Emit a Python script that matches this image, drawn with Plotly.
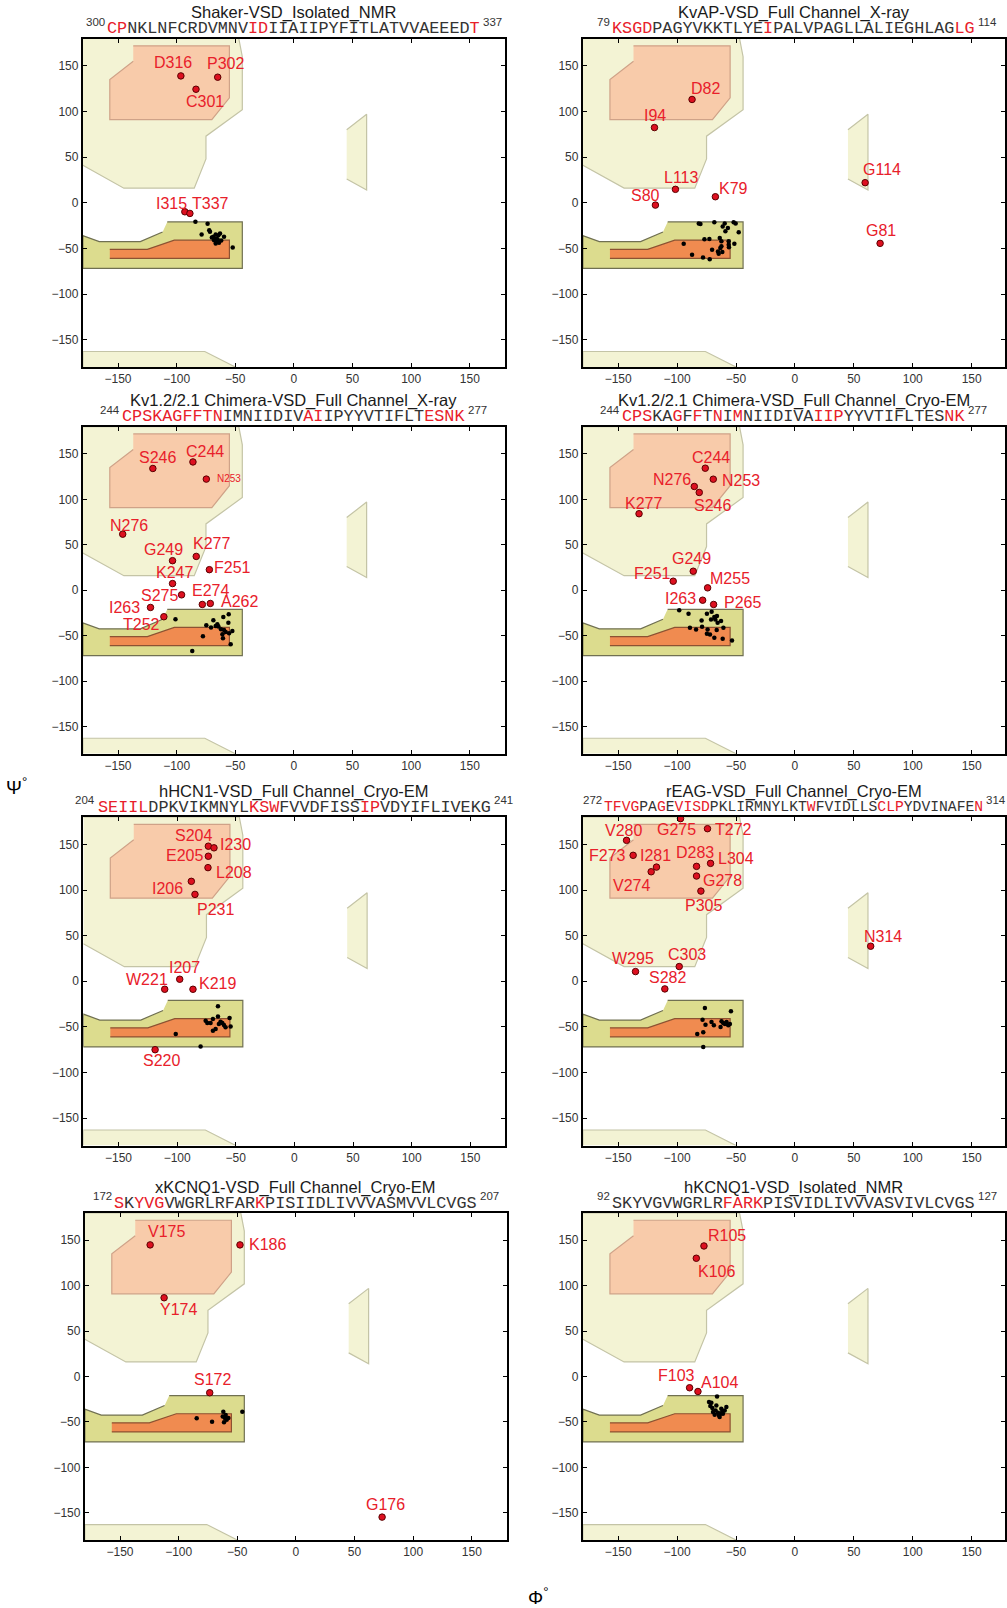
import plotly.graph_objects as go

W, H = 1007, 1608

# ---------------- data ----------------
TITLES = [
    "Shaker-VSD_Isolated_NMR",
    "KvAP-VSD_Full Channel_X-ray",
    "Kv1.2/2.1 Chimera-VSD_Full Channel_X-ray",
    "Kv1.2/2.1 Chimera-VSD_Full Channel_Cryo-EM",
    "hHCN1-VSD_Full Channel_Cryo-EM",
    "rEAG-VSD_Full Channel_Cryo-EM",
    "xKCNQ1-VSD_Full Channel_Cryo-EM",
    "hKCNQ1-VSD_Isolated_NMR",
]
SEQS = [
    "CPNKLNFCRDVMNVIDIIAIIPYFITLATVVAEEEDT",
    "KSGDPAGYVKKTLYEIPALVPAGLLALIEGHLAGLG",
    "CPSKAGFFTNIMNIIDIVAIIPYYVTIFLTESNK",
    "CPSKAGFFTNIMNIIDIVAIIPYYVTIFLTESNK",
    "SEIILDPKVIKMNYLKSWFVVDFISSIPVDYIFLIVEKG",
    "TFVGPAGEVISDPKLIRMNYLKTWFVIDLLSCLPYDVINAFEN",
    "SKYVGVWGRLRFARKPISIIDLIVVVASMVVLCVGS",
    "SKYVGVWGRLRFARKPISVIDLIVVVASVIVLCVGS",
]
SEQ_START = ["300", "79", "244", "244", "204", "272", "172", "92"]
SEQ_END = ["337", "114", "277", "277", "241", "314", "207", "127"]
SEQ_RED = [
    [0, 1, 14, 15, 36],
    [0, 1, 2, 3, 15, 34, 35],
    [0, 1, 2, 3, 4, 5, 6, 7, 8, 9, 18, 19, 30, 31, 32, 33],
    [0, 1, 2, 5, 7, 9, 11, 19, 20, 21, 32, 33],
    [0, 1, 2, 3, 4, 15, 16, 17, 26, 27],
    [0, 1, 2, 3, 6, 8, 9, 10, 11, 23, 31, 32, 33, 42],
    [0, 2, 3, 4, 14],
    [11, 12, 13, 14],
]

RED_LABELS = [
    ["D316", "P302", "C301", "I315", "T337"],
    ["D82", "I94", "L113", "S80", "K79", "G114", "G81"],
    ["S246", "C244", "N253", "N276", "G249", "K277", "F251", "K247", "S275", "E274", "A262", "I263", "T252"],
    ["C244", "N253", "N276", "S246", "K277", "G249", "F251", "M255", "I263", "P265"],
    ["S204", "I230", "E205", "L208", "I206", "P231", "I207", "W221", "K219", "S220"],
    ["G275", "T272", "V280", "F273", "I281", "V274", "D283", "L304", "G278", "P305", "N314", "W295", "C303", "S282"],
    ["V175", "K186", "Y174", "S172", "G176"],
    ["R105", "K106", "F103", "A104"],
]
RED_PHI = [
    [-96.4, -65.0, -83.5, -93.0, -88.7],
    [-87.3, -119.2, -101.4, -118.4, -67.5, 59.6, 72.3],
    [-120.3, -86.1, -74.7, -146.0, -103.5, -83.3, -72.1, -103.5, -95.8, -78.1, -71.3, -122.3, -110.9],
    [-76.1, -69.3, -85.4, -81.2, -132.3, -86.3, -103.3, -74.1, -78.3, -69.0],
    [-73.4, -68.6, -73.4, -73.7, -87.9, -84.8, -97.8, -110.6, -86.5, -118.8],
    [-97.1, -74.2, -142.9, -137.3, -117.5, -122.0, -83.5, -71.6, -83.5, -79.8, 64.3, -135.3, -98.2, -110.4],
    [-124.3, -47.7, -112.4, -73.5, 73.5],
    [-77.2, -83.7, -89.4, -82.3],
]
RED_PSI = [
    [139.0, 137.6, 124.4, -9.9, -11.7],
    [113.2, 82.4, 14.7, -2.6, 6.6, 22.0, -44.5],
    [134.0, 141.2, 122.3, 61.7, 32.5, 37.2, 22.6, 7.3, -5.1, -15.7, -14.6, -19.0, -29.2],
    [134.3, 122.2, 114.2, 107.6, 84.2, 20.9, 9.9, 2.6, -11.0, -15.7],
    [148.0, 146.2, 137.0, 124.5, 109.5, 95.2, 2.2, -8.8, -8.8, -75.0],
    [178.2, 167.2, 154.4, 138.0, 125.1, 120.0, 125.9, 129.2, 115.3, 98.8, 38.4, 10.6, 16.1, -8.4],
    [144.9, 144.9, 86.7, -17.9, -154.8],
    [143.7, 130.2, -12.4, -16.5],
]

BLACK_PHI = [
    [-84, -73.6, -72.2, -78.7, -71.6, -70, -68.7, -66.7, -64.4, -63, -65.9, -68.1, -65.9, -63.9, -59.6, -52.2, -67.3, -65, -66.7, -62],
    [-80.2, -68.4, -59.6, -52, -50.3, -61.3, -56.9, -59, -47.7, -76.8, -72.6, -63.8, -62.4, -56.2, -51.4, -94.4, -70.3, -63.3, -65.3, -62.4, -56, -87.3, -78, -72.3, -64.7, -56.2, -61.6, -81.6],
    [-101, -74.7, -70.7, -68.7, -65.3, -64.4, -60.2, -55.6, -55.9, -62.2, -59.6, -58.2, -61, -60.5, -55.3, -52.5, -53.9, -77.6, -86.7, -66.7],
    [-98.2, -90.3, -74.7, -70.7, -68.4, -66.2, -62.7, -65.6, -67.6, -79.2, -89.1, -83.9, -78.8, -74.1, -74.7, -72.1, -68.4, -66.4, -60.7, -61.3, -53.4, -71.2],
    [-65.2, -75.7, -74.3, -71.5, -69.5, -65.2, -63, -61.5, -60.1, -58.7, -55.3, -54.4, -67.2, -69.5, -64.4, -101.2, -80],
    [-76.4, -54.3, -78.4, -75.9, -70.8, -68.8, -62.3, -60.9, -59.4, -58, -56.6, -55.2, -63.1, -82.9, -77.8, -77.8],
    [-84.6, -71.5, -61.9, -62.4, -60.4, -59, -57.6, -61.3, -45.7, -59.9],
    [-66.1, -72.9, -71.8, -69.5, -67.3, -65.3, -64.4, -63.3, -61.6, -59.6, -58.2, -62.5, -66.7, -70.1, -63.9, -61.1, -68.1, -70.9],
]
BLACK_PSI = [
    [-20.9, -23, -30, -34.8, -31.8, -38, -37.3, -34.8, -35.5, -33.7, -39.2, -41, -42.8, -43.9, -37.3, -49, -40.3, -40.2, -44.6, -41.5],
    [-23.2, -21.3, -22.8, -21.3, -22.8, -26.1, -27.6, -31.3, -32.4, -40, -39.7, -38.6, -42.3, -42.3, -44.9, -44.9, -51.5, -49.6, -53.3, -47.8, -48.9, -57, -60, -61.8, -55.9, -46, -54, -22.8],
    [-32, -38.7, -41.2, -33.2, -37.6, -40.1, -29.6, -26.6, -35.8, -43.1, -43.8, -46, -48.5, -52.9, -47.4, -44.9, -59.5, -50.7, -66.8, -39.4],
    [-22, -26, -26, -23.8, -29.6, -28.5, -34, -35.9, -32.2, -33.3, -41.3, -43.2, -40.2, -43.2, -47.9, -48.7, -52.3, -43.9, -41.3, -53.4, -55.3, -32.2],
    [-27.5, -43.2, -45.8, -45.8, -41.4, -38.5, -44.3, -45.8, -48, -50.5, -40.3, -49.5, -52.4, -54.2, -46.9, -57.9, -71.4],
    [-29.3, -32.9, -42.1, -47.6, -44.6, -48.3, -43.9, -45.7, -46.8, -44.6, -48.3, -46.8, -50.1, -57.8, -56, -72.1],
    [-46.1, -49.8, -38.8, -43.9, -46.1, -47.6, -45.7, -50.5, -38.8, -42.5],
    [-21.9, -28.2, -32.6, -39.1, -37.3, -39.9, -42.8, -41, -38.4, -37.3, -33.6, -35.5, -31.8, -34.7, -44.6, -41, -42.1, -28.9],
]

# Ramachandran region outlines (phi, psi)
ALLOWED_BETA_PHI = [-180, -47, -44, -44, -75, -75, -85, -145, -180]
ALLOWED_BETA_PSI = [180, 180, 160, 102, 73, 48, 16, 16, 41]
CORE_BETA_PHI = [-137, -55, -55, -70, -157, -157, -137]
CORE_BETA_PSI = [172, 172, 115, 91, 91, 135, 155]
ALLOWED_ALPHA_PHI = [-108, -44, -44, -180, -180, -166, -131, -112]
ALLOWED_ALPHA_PSI = [-21, -21, -72, -72, -36, -42.5, -42.5, -32]
CORE_ALPHA_PHI = [-157, -125, -102, -55, -55, -157]
CORE_ALPHA_PSI = [-51, -51, -41, -41, -61, -61]
LEFT_ALPHA_PHI = [45, 62, 62, 45]
LEFT_ALPHA_PSI = [80, 97, 14, 26]
BOTTOM_PHI = [-180, -180, -76, -50]
BOTTOM_PSI = [-180, -163, -163, -180]

TICKS = [-150, -100, -50, 0, 50, 100, 150]

# ---------------- layout / styles ----------------
# panel boxes in pixels: (left, right, top, bottom)
BOXES = [
    (83, 506, 38.5, 367), (584, 1009, 38.5, 367),
    (83, 506, 426.7, 753.7), (584, 1009, 426.7, 753.7),
    (83.5, 506.5, 817, 1145.5), (584, 1009, 817, 1145.5),
    (85, 508, 1213, 1540), (584, 1009, 1213, 1540),
]
SEQ_FONT = [16.8, 16.8, 16.8, 16.8, 16.8, 14.7, 16.8, 16.8]
# label text offsets (pixels, dx right, dy up)
LABEL_OFF = [
    [(-8, 13), (8, 14), (9, -12), (-13, 8), (21, 10)],
    [(13, 11), (1, 12), (6, 12), (-10, 10), (18, 8), (17, 13), (1, 13)],
    [(5, 11), (12, 10), (23, 1), (6, 9), (-9, 11), (15, 13), (23, 2), (2, 11), (-22, -1), (8, 14), (29, 2), (-26, 0), (-22, -8)],
    [(6, 11), (28, -1), (-22, 7), (13, -13), (4, 10), (-2, 13), (-21, 8), (22, 9), (-22, 2), (29, 2)],
    [(-15, 11), (22, 3), (-24, 1), (26, -5), (-24, -7), (21, -15), (5, 12), (-18, 10), (25, 6), (6, -11)],
    [(-4, -11), (26, -1), (-3, 10), (-26, 0), (-1, 12), (-20, -14), (-2, 14), (25, 5), (26, -4), (3, -14), (12, 10), (-3, 13), (8, 12), (3, 11)],
    [(16, 13), (28, 0), (14, -12), (3, 13), (3, 13)],
    [(23, 10), (20, -13), (-13, 12), (22, 9)],
]
SMALL_LABEL = {(2, "N253"): 10}

RED = "#e8202a"
PALE_FILL, PALE_LINE = "#f3f3d4", "#c4c4a6"
CBETA_FILL, CBETA_LINE = "#f8cbaa", "#cfa288"
AALPHA_FILL, AALPHA_LINE = "#dcdc8e", "#707052"
CALPHA_FILL, CALPHA_LINE = "#f08b50", "#8c5232"
SANS = "Liberation Sans, Arial, sans-serif"
MONO = "Liberation Mono, Courier New, monospace"

fig = go.Figure()
annotations = []


def seq_html(seq, red):
    out = []
    red = set(red)
    i = 0
    while i < len(seq):
        is_red = i in red
        j = i
        while j < len(seq) and ((j in red) == is_red):
            j += 1
        chunk = seq[i:j]
        if is_red:
            out.append(f"<span style='color:{RED}'>{chunk}</span>")
        else:
            out.append(chunk)
        i = j
    return "".join(out)


regions = [
    (ALLOWED_BETA_PHI, ALLOWED_BETA_PSI, PALE_FILL, PALE_LINE),
    (LEFT_ALPHA_PHI, LEFT_ALPHA_PSI, PALE_FILL, PALE_LINE),
    (BOTTOM_PHI, BOTTOM_PSI, PALE_FILL, PALE_LINE),
    (CORE_BETA_PHI, CORE_BETA_PSI, CBETA_FILL, CBETA_LINE),
    (ALLOWED_ALPHA_PHI, ALLOWED_ALPHA_PSI, AALPHA_FILL, AALPHA_LINE),
    (CORE_ALPHA_PHI, CORE_ALPHA_PSI, CALPHA_FILL, CALPHA_LINE),
]

for p in range(8):
    n = p + 1
    xa = "x" if n == 1 else f"x{n}"
    ya = "y" if n == 1 else f"y{n}"
    left, right, top, bottom = BOXES[p]
    yd = [1 - bottom / H, 1 - top / H]
    # the right column is clipped at the page edge: shorten the range accordingly
    if right > W:
        frac = (W - left) / (right - left)
        xd = [left / W, 1.0]
        xr = [-180, -180 + 360 * frac]
    else:
        xd = [left / W, right / W]
        xr = [-180, 180]
    axis_common = dict(
        showgrid=False, zeroline=False, showline=True, linecolor="black",
        linewidth=2, mirror="allticks", ticks="inside", ticklen=4,
        tickcolor="black", tickwidth=1, tickvals=TICKS,
        tickfont=dict(family=SANS, size=12, color="#333333"), fixedrange=True,
    )
    fig.layout[f"xaxis{'' if n == 1 else n}"] = dict(domain=xd, anchor=ya, range=xr, **axis_common)
    fig.layout[f"yaxis{'' if n == 1 else n}"] = dict(domain=yd, anchor=xa, range=[-180, 180], **axis_common)

    for rx, ry, fc, lc in regions:
        fig.add_trace(go.Scatter(
            x=rx, y=ry, fill="toself", fillcolor=fc, mode="lines",
            line=dict(color=lc, width=1.2), xaxis=xa, yaxis=ya,
            hoverinfo="skip", showlegend=False))

    fig.add_trace(go.Scatter(
        x=BLACK_PHI[p], y=BLACK_PSI[p], mode="markers",
        marker=dict(color="black", size=4.5), xaxis=xa, yaxis=ya,
        showlegend=False, cliponaxis=False))
    fig.add_trace(go.Scatter(
        x=RED_PHI[p], y=RED_PSI[p], mode="markers",
        marker=dict(color="#dd1020", size=6.5, line=dict(color="#5a0000", width=1)),
        xaxis=xa, yaxis=ya, showlegend=False, cliponaxis=False))

    for k, lab in enumerate(RED_LABELS[p]):
        dx, dy = LABEL_OFF[p][k]
        annotations.append(dict(
            x=RED_PHI[p][k], y=RED_PSI[p][k], xref=xa, yref=ya,
            text=lab, showarrow=False, xshift=dx, yshift=dy,
            xanchor="center", yanchor="middle",
            font=dict(family=SANS, size=SMALL_LABEL.get((p, lab), 16), color=RED)))

    # title + sequence
    cx_px = (left + right) / 2 if right <= W else (left + W) / 2
    annotations.append(dict(
        x=cx_px / W, y=1 - (top - 26) / H, xref="paper", yref="paper",
        text=TITLES[p], showarrow=False, xanchor="center", yanchor="middle",
        font=dict(family=SANS, size=16.5, color="#1a1a1a")))
    fs = SEQ_FONT[p]
    seq_w = len(SEQS[p]) * 0.6 * fs
    seq_y = top - 10
    annotations.append(dict(
        x=cx_px / W, y=1 - seq_y / H, xref="paper", yref="paper",
        text=seq_html(SEQS[p], SEQ_RED[p]), showarrow=False,
        xanchor="center", yanchor="middle",
        font=dict(family=MONO, size=fs, color="#333333")))
    annotations.append(dict(
        x=(cx_px - seq_w / 2 - 1) / W, y=1 - (seq_y - 7) / H, xref="paper", yref="paper",
        text=SEQ_START[p], showarrow=False, xanchor="right", yanchor="middle",
        font=dict(family=SANS, size=11.5, color="#333333")))
    annotations.append(dict(
        x=(cx_px + seq_w / 2 + 1) / W, y=1 - (seq_y - 7) / H, xref="paper", yref="paper",
        text=SEQ_END[p], showarrow=False, xanchor="left", yanchor="middle",
        font=dict(family=SANS, size=11.5, color="#333333")))

annotations.append(dict(
    x=17 / W, y=1 - 786 / H, xref="paper", yref="paper",
    text="Ψ<sup>°</sup>", showarrow=False,
    xanchor="center", yanchor="middle",
    font=dict(family=SANS, size=19, color="black")))
annotations.append(dict(
    x=540 / W, y=1 - 1596 / H, xref="paper", yref="paper",
    text="Φ<sup>°</sup>", showarrow=False,
    xanchor="center", yanchor="middle",
    font=dict(family=SANS, size=19, color="black")))

fig.update_layout(
    width=W, height=H, margin=dict(l=0, r=0, t=0, b=0),
    paper_bgcolor="white", plot_bgcolor="white",
    annotations=annotations, showlegend=False,
)

fig.write_html("out.html")
